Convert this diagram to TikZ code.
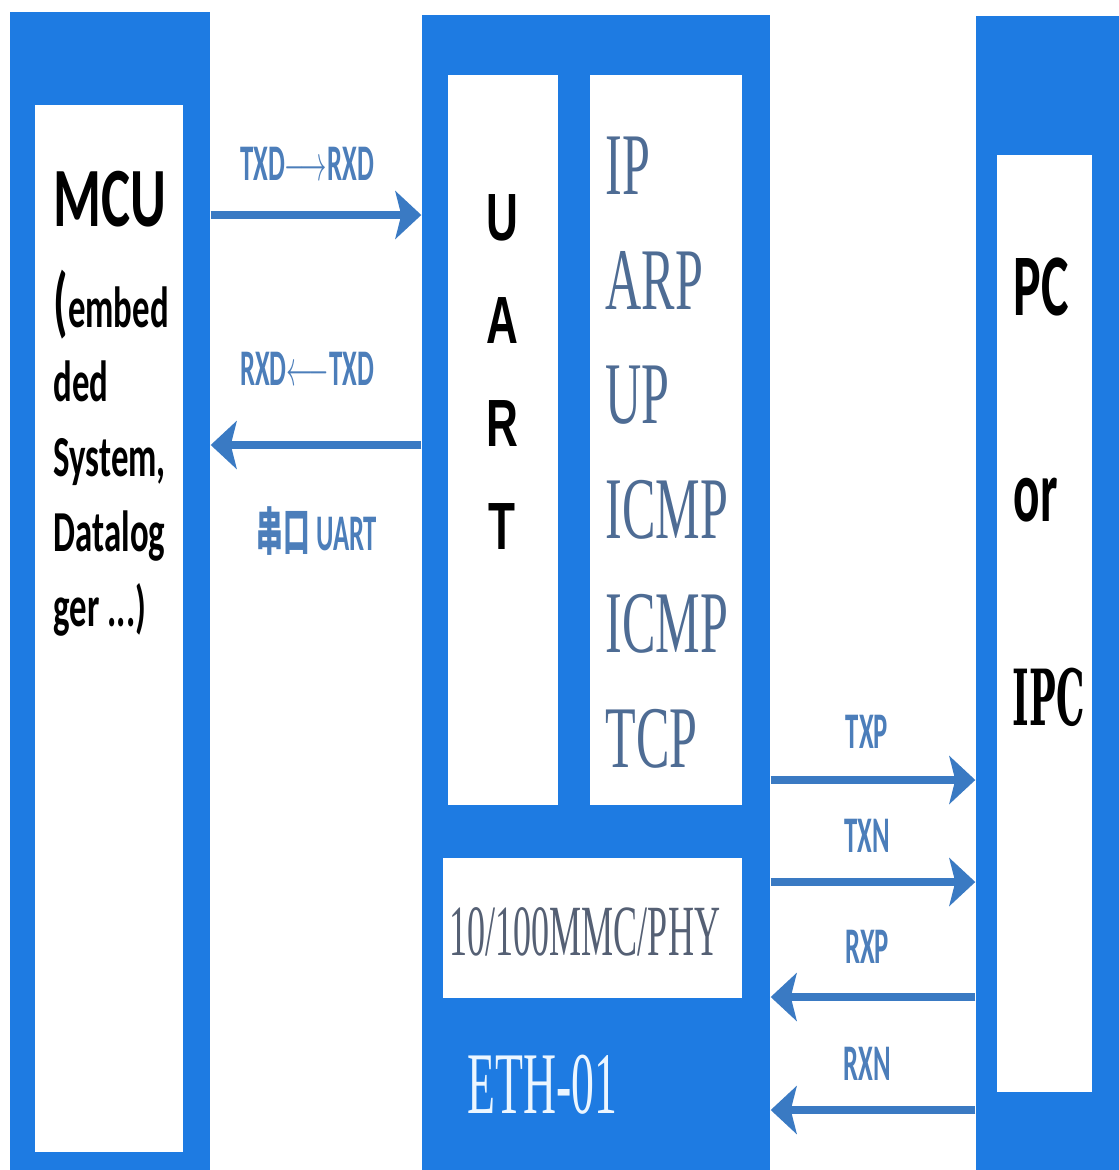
\documentclass[tikz,border=0pt]{standalone}
\usepackage{fontspec}
\setmainfont{Liberation Serif}
\newfontfamily\carlito{Carlito}
\newfontfamily\arialfont{Liberation Sans}
\newfontfamily\slabfont{DejaVu Serif}
\newfontfamily\cjk{Noto Sans CJK SC}
\usetikzlibrary{fit,arrows.meta}
\definecolor{blkblue}{RGB}{30,123,226}
\definecolor{wireblue}{RGB}{58,122,195}
\definecolor{lblblue}{RGB}{76,126,186}
\definecolor{protoblue}{RGB}{78,108,148}
\definecolor{phygray}{RGB}{85,96,116}
\definecolor{ethwhite}{RGB}{236,246,255}
\newcommand{\squeezed}[2]{\scalebox{#1}[1]{#2}}

\begin{document}
\begin{tikzpicture}[x=0.01cm, y=-0.01cm,
  blk/.style={fill=blkblue, inner sep=0pt},
  slot/.style={fill=white, inner sep=0pt},
  sig/.style={draw=wireblue, line width=2pt, -{Stealth[length=0.26cm, width=0.48cm, inset=0.06cm]}},
  txt/.style={inner sep=0pt, anchor=base},
  lbl/.style={txt, text=lblblue, font=\carlito\bfseries\fontsize{14.6}{17}\selectfont}]
  \useasboundingbox (0,0) rectangle (1119,1170);
  \fill[white] (0,0) rectangle (1119,1170);

  \node[blk, fit={(10,12) (210,1180)}] (mcu) {};
  \node[slot, fit={(35,105) (183,1152)}] (mcuin) {};
  \node[blk, fit={(422,15) (770,1180)}] (eth) {};
  \node[slot, fit={(448,75) (558,805)}] (uart) {};
  \node[slot, fit={(590,75) (742,805)}] (stack) {};
  \node[slot, fit={(443,858) (742,998)}] (phy) {};
  \node[blk, fit={(976,16) (1130,1180)}] (pc) {};
  \node[slot, fit={(997,155) (1092,1092)}] (pcin) {};

  \node[txt, anchor=base west, font=\carlito\bfseries\fontsize{24}{28}\selectfont] (mcuname) at (53,226) {\squeezed{0.65}{MCU}};
  \node[txt, anchor=base west, font=\carlito\bfseries\fontsize{16.5}{21.3}\selectfont] (mcunote) at (53,327)
    {\squeezed{0.6}{\begin{tabular}[t]{@{}l@{}}{\fontsize{22}{21.3}\selectfont(}embed\\ded\\System,\\Datalog\\ger ...)\end{tabular}}};

  \node[txt, font=\arialfont\bfseries\fontsize{19}{29.3}\selectfont] (uartname) at (502,240)
    {\squeezed{0.66}{\begin{tabular}[t]{@{}c@{}}U\\A\\R\\T\end{tabular}}};
  \node[txt, anchor=base west, text=protoblue, font=\fontsize{25}{32.55}\selectfont] (protos) at (605,195)
    {\squeezed{0.57}{\begin{tabular}[t]{@{}l@{}}IP\\ARP\\UP\\ICMP\\ICMP\\TCP\end{tabular}}};
  \node[txt, anchor=base west, text=phygray, font=\fontsize{20.5}{24}\selectfont] (phyname) at (449,955) {\squeezed{0.5}{10/100MMC/PHY}};
  \node[txt, anchor=base west, text=ethwhite, font=\fontsize{25}{28}\selectfont] (ethname) at (467,1113) {\squeezed{0.52}{ETH-01}};

  \node[txt, anchor=base west, font=\carlito\bfseries\fontsize{25}{28}\selectfont] (pcname) at (1013,315) {\squeezed{0.59}{PC}};
  \node[txt, anchor=base west, font=\carlito\bfseries\fontsize{25}{28}\selectfont] (orname) at (1013,521) {\squeezed{0.56}{or}};
  \node[txt, anchor=base west, font=\slabfont\bfseries\fontsize{22}{26}\selectfont] (ipcname) at (1012,725) {\squeezed{0.46}{IPC}};

  \coordinate (txd) at (0,215);
  \coordinate (rxd) at (0,445);
  \coordinate (txp) at (0,780);
  \coordinate (txn) at (0,882);
  \coordinate (rxp) at (0,997);
  \coordinate (rxn) at (0,1110);

  \draw[sig] (mcu.east |- txd) -- (eth.west |- txd);
  \draw[sig] (eth.west |- rxd) -- (mcu.east |- rxd);
  \draw[sig] (eth.east |- txp) -- (pc.west |- txp);
  \draw[sig] (eth.east |- txn) -- (pc.west |- txn);
  \draw[sig] (pc.west |- rxp) -- (eth.east |- rxp);
  \draw[sig] (pc.west |- rxn) -- (eth.east |- rxn);

  \node[lbl] (txdlbl) at (307,180) {\squeezed{0.52}{TXD$\longrightarrow$RXD}};
  \node[lbl] (rxdlbl) at (307,385) {\squeezed{0.52}{RXD$\longleftarrow$TXD}};
  \node[lbl] (uartlbl) at (317,550) {\squeezed{0.52}{{\cjk 串口} UART}};
  \node[lbl] (txplbl) at (867,748) {\squeezed{0.52}{TXP}};
  \node[lbl] (txnlbl) at (867,852) {\squeezed{0.52}{TXN}};
  \node[lbl] (rxplbl) at (867,963) {\squeezed{0.52}{RXP}};
  \node[lbl] (rxnlbl) at (867,1080) {\squeezed{0.52}{RXN}};
\end{tikzpicture}
\end{document}
